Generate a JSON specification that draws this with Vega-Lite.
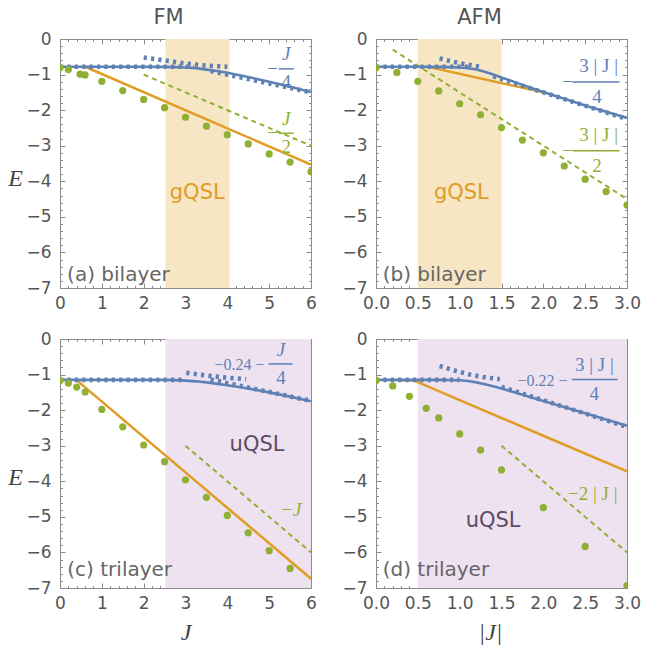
{
"$schema": "https://vega.github.io/schema/vega-lite/v6.json",
"background": "white",
"padding": {"left": 7, "top": 6, "right": 5, "bottom": 5},
"columns": 2,
"spacing": {"row": 51, "column": 65},
"bounds": "flush",
"datasets": {
"A": [
{"s":"band","J":2.52,"J2":4.05},
{"s":"blue","J":0,"E":-0.78},{"s":"blue","J":1,"E":-0.78},{"s":"blue","J":2,"E":-0.78},{"s":"blue","J":2.5,"E":-0.785},{"s":"blue","J":2.75,"E":-0.79},{"s":"blue","J":3,"E":-0.8},{"s":"blue","J":3.25,"E":-0.82},{"s":"blue","J":3.5,"E":-0.86},{"s":"blue","J":3.75,"E":-0.9},{"s":"blue","J":4,"E":-0.95},{"s":"blue","J":4.5,"E":-1.07},{"s":"blue","J":5,"E":-1.2},{"s":"blue","J":5.5,"E":-1.34},{"s":"blue","J":6,"E":-1.49},
{"s":"dot","g":1,"J":0,"E":-0.78},{"s":"dot","g":1,"J":3.2,"E":-0.78},
{"s":"dot","g":2,"J":2,"E":-0.52},{"s":"dot","g":2,"J":2.5,"E":-0.6},{"s":"dot","g":2,"J":3,"E":-0.69},{"s":"dot","g":2,"J":3.5,"E":-0.75},{"s":"dot","g":2,"J":4,"E":-0.78},
{"s":"dot","g":3,"J":3.6,"E":-0.9},{"s":"dot","g":3,"J":6,"E":-1.5},
{"s":"orange","J":0.6,"E":-0.78},{"s":"orange","J":6,"E":-3.53},
{"s":"gdash","J":2,"E":-1},{"s":"gdash","J":6,"E":-3},
{"s":"pts","J":0,"E":-0.81},{"s":"pts","J":0.2,"E":-0.86},{"s":"pts","J":0.48,"E":-0.99},{"s":"pts","J":0.6,"E":-1.01},{"s":"pts","J":1,"E":-1.19},{"s":"pts","J":1.5,"E":-1.45},{"s":"pts","J":2,"E":-1.7},{"s":"pts","J":2.5,"E":-1.93},{"s":"pts","J":3,"E":-2.2},{"s":"pts","J":3.5,"E":-2.45},{"s":"pts","J":4,"E":-2.69},{"s":"pts","J":4.5,"E":-2.95},{"s":"pts","J":5,"E":-3.23},{"s":"pts","J":5.5,"E":-3.46},{"s":"pts","J":6,"E":-3.73},
{"s":"region","J":3.28,"E":-4.33,"t":"gQSL"},
{"s":"panel","J":0.17,"E":-6.64,"t":"(a) bilayer"},
{"s":"fb","J":5.08,"E":-0.84,"t":"−"},{"s":"fb","J":5.41,"E":-1.22,"t":"4"},
{"s":"fbi","J":5.41,"E":-0.42,"t":"J"},
{"s":"barb","J":5.23,"J2":5.59,"E":-0.84},
{"s":"fg","J":5.08,"E":-2.65,"t":"−"},{"s":"fg","J":5.41,"E":-3.04,"t":"2"},
{"s":"fgi","J":5.41,"E":-2.24,"t":"J"},
{"s":"barg","J":5.23,"J2":5.59,"E":-2.65}
],
"B": [
{"s":"band","J":0.5,"J2":1.5},
{"s":"blue","J":0,"E":-0.78},{"s":"blue","J":0.5,"E":-0.78},{"s":"blue","J":0.8,"E":-0.785},{"s":"blue","J":1.0,"E":-0.8},{"s":"blue","J":1.1,"E":-0.82},{"s":"blue","J":1.2,"E":-0.86},{"s":"blue","J":1.3,"E":-0.92},{"s":"blue","J":1.4,"E":-1.0},{"s":"blue","J":1.5,"E":-1.08},{"s":"blue","J":1.75,"E":-1.29},{"s":"blue","J":2,"E":-1.49},{"s":"blue","J":2.5,"E":-1.87},{"s":"blue","J":3,"E":-2.22},
{"s":"dot","g":1,"J":0,"E":-0.78},{"s":"dot","g":1,"J":1.1,"E":-0.78},
{"s":"dot","g":2,"J":0.76,"E":-0.55},{"s":"dot","g":2,"J":1.0,"E":-0.68},{"s":"dot","g":2,"J":1.24,"E":-0.78},
{"s":"dot","g":3,"J":1.4,"E":-1.05},{"s":"dot","g":3,"J":3,"E":-2.25},
{"s":"orange","J":0.64,"E":-0.79},{"s":"orange","J":2,"E":-1.5},
{"s":"gdash","J":0.2,"E":-0.3},{"s":"gdash","J":3,"E":-4.5},
{"s":"pts","J":0,"E":-0.81},{"s":"pts","J":0.25,"E":-0.94},{"s":"pts","J":0.5,"E":-1.19},{"s":"pts","J":0.75,"E":-1.46},{"s":"pts","J":1,"E":-1.82},{"s":"pts","J":1.25,"E":-2.13},{"s":"pts","J":1.5,"E":-2.49},{"s":"pts","J":1.75,"E":-2.84},{"s":"pts","J":2,"E":-3.2},{"s":"pts","J":2.25,"E":-3.57},{"s":"pts","J":2.5,"E":-3.94},{"s":"pts","J":2.75,"E":-4.29},{"s":"pts","J":3,"E":-4.67},
{"s":"region","J":1.02,"E":-4.33,"t":"gQSL"},
{"s":"panel","J":0.08,"E":-6.64,"t":"(b) bilayer"},
{"s":"fb","J":2.29,"E":-1.21,"t":"−"},{"s":"fb","J":2.66,"E":-0.76,"t":"3 | J |"},{"s":"fb","J":2.64,"E":-1.63,"t":"4"},
{"s":"barb","J":2.35,"J2":2.91,"E":-1.21},
{"s":"fg","J":2.29,"E":-3.14,"t":"−"},{"s":"fg","J":2.66,"E":-2.71,"t":"3 | J |"},{"s":"fg","J":2.64,"E":-3.56,"t":"2"},
{"s":"barg","J":2.35,"J2":2.91,"E":-3.14}
],
"C": [
{"s":"band","J":2.52,"J2":6},
{"s":"blue","J":0,"E":-1.15},{"s":"blue","J":2.5,"E":-1.15},{"s":"blue","J":2.75,"E":-1.156},{"s":"blue","J":3,"E":-1.17},{"s":"blue","J":3.25,"E":-1.19},{"s":"blue","J":3.5,"E":-1.22},{"s":"blue","J":4,"E":-1.3},{"s":"blue","J":4.5,"E":-1.39},{"s":"blue","J":5,"E":-1.5},{"s":"blue","J":5.5,"E":-1.62},{"s":"blue","J":6,"E":-1.75},
{"s":"dot","g":1,"J":0,"E":-1.15},{"s":"dot","g":1,"J":3,"E":-1.15},
{"s":"dot","g":2,"J":3.02,"E":-0.95},{"s":"dot","g":2,"J":3.5,"E":-1.03},{"s":"dot","g":2,"J":4,"E":-1.09},{"s":"dot","g":2,"J":4.45,"E":-1.13},
{"s":"dot","g":3,"J":3.6,"E":-1.14},{"s":"dot","g":3,"J":6,"E":-1.74},
{"s":"orange","J":0.41,"E":-1.17},{"s":"orange","J":6,"E":-6.74},
{"s":"gdash","J":3,"E":-3},{"s":"gdash","J":6,"E":-6},
{"s":"pts","J":0,"E":-1.17},{"s":"pts","J":0.2,"E":-1.24},{"s":"pts","J":0.4,"E":-1.35},{"s":"pts","J":0.6,"E":-1.49},{"s":"pts","J":1,"E":-1.98},{"s":"pts","J":1.5,"E":-2.47},{"s":"pts","J":2,"E":-2.98},{"s":"pts","J":2.5,"E":-3.45},{"s":"pts","J":3,"E":-3.96},{"s":"pts","J":3.5,"E":-4.45},{"s":"pts","J":4,"E":-4.96},{"s":"pts","J":4.5,"E":-5.45},{"s":"pts","J":5,"E":-5.95},{"s":"pts","J":5.5,"E":-6.45},
{"s":"region","J":4.71,"E":-2.99,"t":"uQSL"},
{"s":"panel","J":0.175,"E":-6.5,"t":"(c) trilayer"},
{"s":"fbr","J":4.89,"E":-0.72,"t":"−0.24 −"},
{"s":"fb","J":5.28,"E":-1.1,"t":"4"},
{"s":"fbi","J":5.28,"E":-0.3,"t":"J"},
{"s":"barb","J":4.98,"J2":5.56,"E":-0.7},
{"s":"fgi","J":5.52,"E":-4.8,"t":"−J"}
],
"D": [
{"s":"band","J":0.5,"J2":3},
{"s":"blue","J":0,"E":-1.15},{"s":"blue","J":0.75,"E":-1.15},{"s":"blue","J":1.0,"E":-1.16},{"s":"blue","J":1.1,"E":-1.18},{"s":"blue","J":1.2,"E":-1.22},{"s":"blue","J":1.3,"E":-1.27},{"s":"blue","J":1.4,"E":-1.33},{"s":"blue","J":1.5,"E":-1.39},{"s":"blue","J":2,"E":-1.74},{"s":"blue","J":2.5,"E":-2.09},{"s":"blue","J":3,"E":-2.44},
{"s":"dot","g":1,"J":0,"E":-1.15},{"s":"dot","g":1,"J":1.0,"E":-1.15},
{"s":"dot","g":2,"J":0.76,"E":-0.76},{"s":"dot","g":2,"J":0.96,"E":-0.9},{"s":"dot","g":2,"J":1.12,"E":-1.0},{"s":"dot","g":2,"J":1.28,"E":-1.07},{"s":"dot","g":2,"J":1.48,"E":-1.13},
{"s":"dot","g":3,"J":1.5,"E":-1.35},{"s":"dot","g":3,"J":3,"E":-2.47},
{"s":"orange","J":0.3,"E":-1.16},{"s":"orange","J":0.46,"E":-1.17},{"s":"orange","J":1,"E":-1.72},{"s":"orange","J":2,"E":-2.72},{"s":"orange","J":3,"E":-3.72},
{"s":"gdash","J":1.5,"E":-3},{"s":"gdash","J":3,"E":-6},
{"s":"pts","J":0,"E":-1.17},{"s":"pts","J":0.2,"E":-1.32},{"s":"pts","J":0.4,"E":-1.61},{"s":"pts","J":0.6,"E":-1.95},{"s":"pts","J":0.75,"E":-2.22},{"s":"pts","J":1,"E":-2.67},{"s":"pts","J":1.25,"E":-3.12},{"s":"pts","J":1.5,"E":-3.68},{"s":"pts","J":2,"E":-4.74},{"s":"pts","J":2.5,"E":-5.83},{"s":"pts","J":3,"E":-6.93},
{"s":"region","J":1.4,"E":-5.13,"t":"uQSL"},
{"s":"panel","J":0.08,"E":-6.5,"t":"(d) trilayer"},
{"s":"fbr","J":2.29,"E":-1.17,"t":"−0.22 −"},
{"s":"fb","J":2.61,"E":-0.73,"t":"3 | J |"},{"s":"fb","J":2.61,"E":-1.55,"t":"4"},
{"s":"barb","J":2.34,"J2":2.89,"E":-1.14},
{"s":"fg","J":2.59,"E":-4.35,"t":"−2 | J |"}
]
},
"concat": [
{
"width": 251, "height": 249,
"title": {"text": "FM", "dx": -17, "offset": -15, "baseline": "alphabetic"},
"data": {"name": "A"},
"resolve": {"axis": {"x": "independent", "y": "independent"}},
"layer": [
{"transform":[{"filter":"datum.s==='band'"}],"mark":{"type":"rect","color":"#F7E6C4"},"encoding":{"x":{"field":"J","type":"quantitative","axis":null},"x2":{"field":"J2"}}},
{"transform":[{"filter":"datum.s==='pts'"}],"mark":{"type":"point","opacity":0},"encoding":{
"x":{"field":"J","type":"quantitative","scale":{"domain":[0,6],"nice":false,"zero":false},"axis":{"orient":"bottom","values":[0,1,2,3,4,5,6],"tickSize":-5,"labelPadding":12,"title":null}},
"y":{"field":"E","type":"quantitative","scale":{"domain":[-7,0],"nice":false,"zero":false},"axis":{"orient":"left","values":[-7,-6,-5,-4,-3,-2,-1,0],"tickSize":-5,"labelPadding":14,"title":"E","titleAngle":0,"titleX":-45,"titleY":139,"titleAlign":"center","titleBaseline":"middle","titleFont":"Liberation Serif","titleFontStyle":"italic","titleFontSize":24,"titleFontWeight":"normal","titleColor":"#444"}}}},
{"transform":[{"filter":"datum.s==='pts'"}],"mark":{"type":"point","opacity":0},"encoding":{
"x":{"field":"J","type":"quantitative","axis":{"orient":"top","values":[0,1,2,3,4,5,6],"tickSize":-5,"labels":false,"title":null}},
"y":{"field":"E","type":"quantitative","axis":{"orient":"right","values":[-7,-6,-5,-4,-3,-2,-1,0],"tickSize":-5,"labels":false,"title":null}}}},
{"transform":[{"filter":"datum.s==='pts'"}],"mark":{"type":"point","opacity":0},"encoding":{
"x":{"field":"J","type":"quantitative","axis":{"orient":"bottom","values":[0.2,0.4,0.6,0.8,1.2,1.4,1.6,1.8,2.2,2.4,2.6,2.8,3.2,3.4,3.6,3.8,4.2,4.4,4.6,4.8,5.2,5.4,5.6,5.8],"tickSize":-2.5,"labels":false,"title":null}},
"y":{"field":"E","type":"quantitative","axis":{"orient":"left","values":[-6.8,-6.6,-6.4,-6.2,-5.8,-5.6,-5.4,-5.2,-4.8,-4.6,-4.4,-4.2,-3.8,-3.6,-3.4,-3.2,-2.8,-2.6,-2.4,-2.2,-1.8,-1.6,-1.4,-1.2,-0.8,-0.6,-0.4,-0.2],"tickSize":-2.5,"labels":false,"title":null}}}},
{"transform":[{"filter":"datum.s==='pts'"}],"mark":{"type":"point","opacity":0},"encoding":{
"x":{"field":"J","type":"quantitative","axis":{"orient":"top","values":[0.2,0.4,0.6,0.8,1.2,1.4,1.6,1.8,2.2,2.4,2.6,2.8,3.2,3.4,3.6,3.8,4.2,4.4,4.6,4.8,5.2,5.4,5.6,5.8],"tickSize":-2.5,"labels":false,"title":null}},
"y":{"field":"E","type":"quantitative","axis":{"orient":"right","values":[-6.8,-6.6,-6.4,-6.2,-5.8,-5.6,-5.4,-5.2,-4.8,-4.6,-4.4,-4.2,-3.8,-3.6,-3.4,-3.2,-2.8,-2.6,-2.4,-2.2,-1.8,-1.6,-1.4,-1.2,-0.8,-0.6,-0.4,-0.2],"tickSize":-2.5,"labels":false,"title":null}}}},
{"transform":[{"filter":"datum.s==='orange'"}],"mark":{"type":"line","color":"#E19C24","strokeWidth":2.5,"clip":true},"encoding":{"x":{"field":"J","type":"quantitative","axis":null},"y":{"field":"E","type":"quantitative","axis":null}}},
{"transform":[{"filter":"datum.s==='gdash'"}],"mark":{"type":"line","color":"#8FB032","strokeWidth":2,"strokeDash":[5,4],"clip":true},"encoding":{"x":{"field":"J","type":"quantitative","axis":null},"y":{"field":"E","type":"quantitative","axis":null}}},
{"transform":[{"filter":"datum.s==='blue'"}],"mark":{"type":"line","color":"#5E81B5","strokeWidth":2.6,"clip":true},"encoding":{"x":{"field":"J","type":"quantitative","axis":null},"y":{"field":"E","type":"quantitative","axis":null}}},
{"transform":[{"filter":"datum.s==='dot'"}],"mark":{"type":"line","color":"#5E81B5","strokeWidth":4.6,"strokeDash":[3.2,4.2],"strokeCap":"butt","clip":true},"encoding":{"x":{"field":"J","type":"quantitative","axis":null},"y":{"field":"E","type":"quantitative","axis":null},"detail":{"field":"g","type":"nominal"}}},
{"transform":[{"filter":"datum.s==='pts'"}],"mark":{"type":"circle","color":"#8FB032","size":52,"opacity":1,"clip":true},"encoding":{"x":{"field":"J","type":"quantitative","axis":null},"y":{"field":"E","type":"quantitative","axis":null}}},
{"transform":[{"filter":"datum.s==='region'"}],"mark":{"type":"text","font":"DejaVu Sans","fontSize":21,"color":"#E19C24","align":"center","baseline":"middle"},"encoding":{"x":{"field":"J","type":"quantitative","axis":null},"y":{"field":"E","type":"quantitative","axis":null},"text":{"field":"t"}}},
{"transform":[{"filter":"datum.s==='panel'"}],"mark":{"type":"text","font":"DejaVu Sans","fontSize":20,"color":"#666666","align":"left","baseline":"middle"},"encoding":{"x":{"field":"J","type":"quantitative","axis":null},"y":{"field":"E","type":"quantitative","axis":null},"text":{"field":"t"}}},
{"transform":[{"filter":"datum.s==='fb'"}],"mark":{"type":"text","font":"Liberation Serif","fontSize":19,"color":"#5E81B5","align":"center","baseline":"middle"},"encoding":{"x":{"field":"J","type":"quantitative","axis":null},"y":{"field":"E","type":"quantitative","axis":null},"text":{"field":"t"}}},
{"transform":[{"filter":"datum.s==='fbi'"}],"mark":{"type":"text","font":"Liberation Serif","fontSize":19,"fontStyle":"italic","color":"#5E81B5","align":"center","baseline":"middle"},"encoding":{"x":{"field":"J","type":"quantitative","axis":null},"y":{"field":"E","type":"quantitative","axis":null},"text":{"field":"t"}}},
{"transform":[{"filter":"datum.s==='barb'"}],"mark":{"type":"rule","color":"#5E81B5","strokeWidth":1.5},"encoding":{"x":{"field":"J","type":"quantitative","axis":null},"x2":{"field":"J2"},"y":{"field":"E","type":"quantitative","axis":null}}},
{"transform":[{"filter":"datum.s==='fg'"}],"mark":{"type":"text","font":"Liberation Serif","fontSize":19,"color":"#8FB032","align":"center","baseline":"middle"},"encoding":{"x":{"field":"J","type":"quantitative","axis":null},"y":{"field":"E","type":"quantitative","axis":null},"text":{"field":"t"}}},
{"transform":[{"filter":"datum.s==='fgi'"}],"mark":{"type":"text","font":"Liberation Serif","fontSize":19,"fontStyle":"italic","color":"#8FB032","align":"center","baseline":"middle"},"encoding":{"x":{"field":"J","type":"quantitative","axis":null},"y":{"field":"E","type":"quantitative","axis":null},"text":{"field":"t"}}},
{"transform":[{"filter":"datum.s==='barg'"}],"mark":{"type":"rule","color":"#8FB032","strokeWidth":1.5},"encoding":{"x":{"field":"J","type":"quantitative","axis":null},"x2":{"field":"J2"},"y":{"field":"E","type":"quantitative","axis":null}}}
]
},
{
"width": 251, "height": 249,
"title": {"text": "AFM", "dx": -22, "offset": -15, "baseline": "alphabetic"},
"data": {"name": "B"},
"resolve": {"axis": {"x": "independent", "y": "independent"}},
"layer": [
{"transform":[{"filter":"datum.s==='band'"}],"mark":{"type":"rect","color":"#F7E6C4"},"encoding":{"x":{"field":"J","type":"quantitative","axis":null},"x2":{"field":"J2"}}},
{"transform":[{"filter":"datum.s==='pts'"}],"mark":{"type":"point","opacity":0},"encoding":{
"x":{"field":"J","type":"quantitative","scale":{"domain":[0,3],"nice":false,"zero":false},"axis":{"orient":"bottom","values":[0,0.5,1,1.5,2,2.5,3],"format":".1f","tickSize":-5,"labelPadding":12,"title":null}},
"y":{"field":"E","type":"quantitative","scale":{"domain":[-7,0],"nice":false,"zero":false},"axis":{"orient":"left","values":[-7,-6,-5,-4,-3,-2,-1,0],"tickSize":-5,"labelPadding":14,"title":null}}}},
{"transform":[{"filter":"datum.s==='pts'"}],"mark":{"type":"point","opacity":0},"encoding":{
"x":{"field":"J","type":"quantitative","axis":{"orient":"top","values":[0,0.5,1,1.5,2,2.5,3],"tickSize":-5,"labels":false,"title":null}},
"y":{"field":"E","type":"quantitative","axis":{"orient":"right","values":[-7,-6,-5,-4,-3,-2,-1,0],"tickSize":-5,"labels":false,"title":null}}}},
{"transform":[{"filter":"datum.s==='pts'"}],"mark":{"type":"point","opacity":0},"encoding":{
"x":{"field":"J","type":"quantitative","axis":{"orient":"bottom","values":[0.1,0.2,0.3,0.4,0.6,0.7,0.8,0.9,1.1,1.2,1.3,1.4,1.6,1.7,1.8,1.9,2.1,2.2,2.3,2.4,2.6,2.7,2.8,2.9],"tickSize":-2.5,"labels":false,"title":null}},
"y":{"field":"E","type":"quantitative","axis":{"orient":"left","values":[-6.8,-6.6,-6.4,-6.2,-5.8,-5.6,-5.4,-5.2,-4.8,-4.6,-4.4,-4.2,-3.8,-3.6,-3.4,-3.2,-2.8,-2.6,-2.4,-2.2,-1.8,-1.6,-1.4,-1.2,-0.8,-0.6,-0.4,-0.2],"tickSize":-2.5,"labels":false,"title":null}}}},
{"transform":[{"filter":"datum.s==='pts'"}],"mark":{"type":"point","opacity":0},"encoding":{
"x":{"field":"J","type":"quantitative","axis":{"orient":"top","values":[0.1,0.2,0.3,0.4,0.6,0.7,0.8,0.9,1.1,1.2,1.3,1.4,1.6,1.7,1.8,1.9,2.1,2.2,2.3,2.4,2.6,2.7,2.8,2.9],"tickSize":-2.5,"labels":false,"title":null}},
"y":{"field":"E","type":"quantitative","axis":{"orient":"right","values":[-6.8,-6.6,-6.4,-6.2,-5.8,-5.6,-5.4,-5.2,-4.8,-4.6,-4.4,-4.2,-3.8,-3.6,-3.4,-3.2,-2.8,-2.6,-2.4,-2.2,-1.8,-1.6,-1.4,-1.2,-0.8,-0.6,-0.4,-0.2],"tickSize":-2.5,"labels":false,"title":null}}}},
{"transform":[{"filter":"datum.s==='orange'"}],"mark":{"type":"line","color":"#E19C24","strokeWidth":2.5,"clip":true},"encoding":{"x":{"field":"J","type":"quantitative","axis":null},"y":{"field":"E","type":"quantitative","axis":null}}},
{"transform":[{"filter":"datum.s==='gdash'"}],"mark":{"type":"line","color":"#8FB032","strokeWidth":2,"strokeDash":[5,4],"clip":true},"encoding":{"x":{"field":"J","type":"quantitative","axis":null},"y":{"field":"E","type":"quantitative","axis":null}}},
{"transform":[{"filter":"datum.s==='blue'"}],"mark":{"type":"line","color":"#5E81B5","strokeWidth":2.6,"clip":true},"encoding":{"x":{"field":"J","type":"quantitative","axis":null},"y":{"field":"E","type":"quantitative","axis":null}}},
{"transform":[{"filter":"datum.s==='dot'"}],"mark":{"type":"line","color":"#5E81B5","strokeWidth":4.6,"strokeDash":[3.2,4.2],"strokeCap":"butt","clip":true},"encoding":{"x":{"field":"J","type":"quantitative","axis":null},"y":{"field":"E","type":"quantitative","axis":null},"detail":{"field":"g","type":"nominal"}}},
{"transform":[{"filter":"datum.s==='pts'"}],"mark":{"type":"circle","color":"#8FB032","size":52,"opacity":1,"clip":true},"encoding":{"x":{"field":"J","type":"quantitative","axis":null},"y":{"field":"E","type":"quantitative","axis":null}}},
{"transform":[{"filter":"datum.s==='region'"}],"mark":{"type":"text","font":"DejaVu Sans","fontSize":21,"color":"#E19C24","align":"center","baseline":"middle"},"encoding":{"x":{"field":"J","type":"quantitative","axis":null},"y":{"field":"E","type":"quantitative","axis":null},"text":{"field":"t"}}},
{"transform":[{"filter":"datum.s==='panel'"}],"mark":{"type":"text","font":"DejaVu Sans","fontSize":20,"color":"#666666","align":"left","baseline":"middle"},"encoding":{"x":{"field":"J","type":"quantitative","axis":null},"y":{"field":"E","type":"quantitative","axis":null},"text":{"field":"t"}}},
{"transform":[{"filter":"datum.s==='fb'"}],"mark":{"type":"text","font":"Liberation Serif","fontSize":19,"color":"#5E81B5","align":"center","baseline":"middle"},"encoding":{"x":{"field":"J","type":"quantitative","axis":null},"y":{"field":"E","type":"quantitative","axis":null},"text":{"field":"t"}}},
{"transform":[{"filter":"datum.s==='barb'"}],"mark":{"type":"rule","color":"#5E81B5","strokeWidth":1.5},"encoding":{"x":{"field":"J","type":"quantitative","axis":null},"x2":{"field":"J2"},"y":{"field":"E","type":"quantitative","axis":null}}},
{"transform":[{"filter":"datum.s==='fg'"}],"mark":{"type":"text","font":"Liberation Serif","fontSize":19,"color":"#8FB032","align":"center","baseline":"middle"},"encoding":{"x":{"field":"J","type":"quantitative","axis":null},"y":{"field":"E","type":"quantitative","axis":null},"text":{"field":"t"}}},
{"transform":[{"filter":"datum.s==='barg'"}],"mark":{"type":"rule","color":"#8FB032","strokeWidth":1.5},"encoding":{"x":{"field":"J","type":"quantitative","axis":null},"x2":{"field":"J2"},"y":{"field":"E","type":"quantitative","axis":null}}}
]
},
{
"width": 251, "height": 249,
"data": {"name": "C"},
"resolve": {"axis": {"x": "independent", "y": "independent"}},
"layer": [
{"transform":[{"filter":"datum.s==='band'"}],"mark":{"type":"rect","color":"#EEE1F0"},"encoding":{"x":{"field":"J","type":"quantitative","axis":null},"x2":{"field":"J2"}}},
{"transform":[{"filter":"datum.s==='pts'"}],"mark":{"type":"point","opacity":0},"encoding":{
"x":{"field":"J","type":"quantitative","scale":{"domain":[0,6],"nice":false,"zero":false},"axis":{"orient":"bottom","values":[0,1,2,3,4,5,6],"tickSize":-5,"labelPadding":12,"title":"J","titleX":125.7,"titleY":44,"titleAlign":"center","titleBaseline":"middle","titleFont":"Liberation Serif","titleFontStyle":"italic","titleFontSize":24,"titleFontWeight":"normal","titleColor":"#444"}},
"y":{"field":"E","type":"quantitative","scale":{"domain":[-7,0],"nice":false,"zero":false},"axis":{"orient":"left","values":[-7,-6,-5,-4,-3,-2,-1,0],"tickSize":-5,"labelPadding":14,"title":"E","titleAngle":0,"titleX":-45,"titleY":138,"titleAlign":"center","titleBaseline":"middle","titleFont":"Liberation Serif","titleFontStyle":"italic","titleFontSize":24,"titleFontWeight":"normal","titleColor":"#444"}}}},
{"transform":[{"filter":"datum.s==='pts'"}],"mark":{"type":"point","opacity":0},"encoding":{
"x":{"field":"J","type":"quantitative","axis":{"orient":"top","values":[0,1,2,3,4,5,6],"tickSize":-5,"labels":false,"title":null}},
"y":{"field":"E","type":"quantitative","axis":{"orient":"right","values":[-7,-6,-5,-4,-3,-2,-1,0],"tickSize":-5,"labels":false,"title":null}}}},
{"transform":[{"filter":"datum.s==='pts'"}],"mark":{"type":"point","opacity":0},"encoding":{
"x":{"field":"J","type":"quantitative","axis":{"orient":"bottom","values":[0.2,0.4,0.6,0.8,1.2,1.4,1.6,1.8,2.2,2.4,2.6,2.8,3.2,3.4,3.6,3.8,4.2,4.4,4.6,4.8,5.2,5.4,5.6,5.8],"tickSize":-2.5,"labels":false,"title":null}},
"y":{"field":"E","type":"quantitative","axis":{"orient":"left","values":[-6.8,-6.6,-6.4,-6.2,-5.8,-5.6,-5.4,-5.2,-4.8,-4.6,-4.4,-4.2,-3.8,-3.6,-3.4,-3.2,-2.8,-2.6,-2.4,-2.2,-1.8,-1.6,-1.4,-1.2,-0.8,-0.6,-0.4,-0.2],"tickSize":-2.5,"labels":false,"title":null}}}},
{"transform":[{"filter":"datum.s==='pts'"}],"mark":{"type":"point","opacity":0},"encoding":{
"x":{"field":"J","type":"quantitative","axis":{"orient":"top","values":[0.2,0.4,0.6,0.8,1.2,1.4,1.6,1.8,2.2,2.4,2.6,2.8,3.2,3.4,3.6,3.8,4.2,4.4,4.6,4.8,5.2,5.4,5.6,5.8],"tickSize":-2.5,"labels":false,"title":null}},
"y":{"field":"E","type":"quantitative","axis":{"orient":"right","values":[-6.8,-6.6,-6.4,-6.2,-5.8,-5.6,-5.4,-5.2,-4.8,-4.6,-4.4,-4.2,-3.8,-3.6,-3.4,-3.2,-2.8,-2.6,-2.4,-2.2,-1.8,-1.6,-1.4,-1.2,-0.8,-0.6,-0.4,-0.2],"tickSize":-2.5,"labels":false,"title":null}}}},
{"transform":[{"filter":"datum.s==='orange'"}],"mark":{"type":"line","color":"#E19C24","strokeWidth":2.5,"clip":true},"encoding":{"x":{"field":"J","type":"quantitative","axis":null},"y":{"field":"E","type":"quantitative","axis":null}}},
{"transform":[{"filter":"datum.s==='gdash'"}],"mark":{"type":"line","color":"#8FB032","strokeWidth":2,"strokeDash":[5,4],"clip":true},"encoding":{"x":{"field":"J","type":"quantitative","axis":null},"y":{"field":"E","type":"quantitative","axis":null}}},
{"transform":[{"filter":"datum.s==='blue'"}],"mark":{"type":"line","color":"#5E81B5","strokeWidth":2.6,"clip":true},"encoding":{"x":{"field":"J","type":"quantitative","axis":null},"y":{"field":"E","type":"quantitative","axis":null}}},
{"transform":[{"filter":"datum.s==='dot'"}],"mark":{"type":"line","color":"#5E81B5","strokeWidth":4.6,"strokeDash":[3.2,4.2],"strokeCap":"butt","clip":true},"encoding":{"x":{"field":"J","type":"quantitative","axis":null},"y":{"field":"E","type":"quantitative","axis":null},"detail":{"field":"g","type":"nominal"}}},
{"transform":[{"filter":"datum.s==='pts'"}],"mark":{"type":"circle","color":"#8FB032","size":52,"opacity":1,"clip":true},"encoding":{"x":{"field":"J","type":"quantitative","axis":null},"y":{"field":"E","type":"quantitative","axis":null}}},
{"transform":[{"filter":"datum.s==='region'"}],"mark":{"type":"text","font":"DejaVu Sans","fontSize":21,"color":"#5F4B66","align":"center","baseline":"middle"},"encoding":{"x":{"field":"J","type":"quantitative","axis":null},"y":{"field":"E","type":"quantitative","axis":null},"text":{"field":"t"}}},
{"transform":[{"filter":"datum.s==='panel'"}],"mark":{"type":"text","font":"DejaVu Sans","fontSize":20,"color":"#666666","align":"left","baseline":"middle"},"encoding":{"x":{"field":"J","type":"quantitative","axis":null},"y":{"field":"E","type":"quantitative","axis":null},"text":{"field":"t"}}},
{"transform":[{"filter":"datum.s==='fbr'"}],"mark":{"type":"text","font":"Liberation Serif","fontSize":16,"color":"#5E81B5","align":"right","baseline":"middle"},"encoding":{"x":{"field":"J","type":"quantitative","axis":null},"y":{"field":"E","type":"quantitative","axis":null},"text":{"field":"t"}}},
{"transform":[{"filter":"datum.s==='fb'"}],"mark":{"type":"text","font":"Liberation Serif","fontSize":19,"color":"#5E81B5","align":"center","baseline":"middle"},"encoding":{"x":{"field":"J","type":"quantitative","axis":null},"y":{"field":"E","type":"quantitative","axis":null},"text":{"field":"t"}}},
{"transform":[{"filter":"datum.s==='fbi'"}],"mark":{"type":"text","font":"Liberation Serif","fontSize":19,"fontStyle":"italic","color":"#5E81B5","align":"center","baseline":"middle"},"encoding":{"x":{"field":"J","type":"quantitative","axis":null},"y":{"field":"E","type":"quantitative","axis":null},"text":{"field":"t"}}},
{"transform":[{"filter":"datum.s==='barb'"}],"mark":{"type":"rule","color":"#5E81B5","strokeWidth":1.5},"encoding":{"x":{"field":"J","type":"quantitative","axis":null},"x2":{"field":"J2"},"y":{"field":"E","type":"quantitative","axis":null}}},
{"transform":[{"filter":"datum.s==='fgi'"}],"mark":{"type":"text","font":"Liberation Serif","fontSize":19,"fontStyle":"italic","color":"#8FB032","align":"center","baseline":"middle"},"encoding":{"x":{"field":"J","type":"quantitative","axis":null},"y":{"field":"E","type":"quantitative","axis":null},"text":{"field":"t"}}}
]
},
{
"width": 251, "height": 249,
"data": {"name": "D"},
"resolve": {"axis": {"x": "independent", "y": "independent"}},
"layer": [
{"transform":[{"filter":"datum.s==='band'"}],"mark":{"type":"rect","color":"#EEE1F0"},"encoding":{"x":{"field":"J","type":"quantitative","axis":null},"x2":{"field":"J2"}}},
{"transform":[{"filter":"datum.s==='pts'"}],"mark":{"type":"point","opacity":0},"encoding":{
"x":{"field":"J","type":"quantitative","scale":{"domain":[0,3],"nice":false,"zero":false},"axis":{"orient":"bottom","values":[0,0.5,1,1.5,2,2.5,3],"format":".1f","tickSize":-5,"labelPadding":12,"title":"|J|","titleX":114,"titleY":44,"titleAlign":"center","titleBaseline":"middle","titleFont":"Liberation Serif","titleFontStyle":"italic","titleFontSize":24,"titleFontWeight":"normal","titleColor":"#444"}},
"y":{"field":"E","type":"quantitative","scale":{"domain":[-7,0],"nice":false,"zero":false},"axis":{"orient":"left","values":[-7,-6,-5,-4,-3,-2,-1,0],"tickSize":-5,"labelPadding":14,"title":null}}}},
{"transform":[{"filter":"datum.s==='pts'"}],"mark":{"type":"point","opacity":0},"encoding":{
"x":{"field":"J","type":"quantitative","axis":{"orient":"top","values":[0,0.5,1,1.5,2,2.5,3],"tickSize":-5,"labels":false,"title":null}},
"y":{"field":"E","type":"quantitative","axis":{"orient":"right","values":[-7,-6,-5,-4,-3,-2,-1,0],"tickSize":-5,"labels":false,"title":null}}}},
{"transform":[{"filter":"datum.s==='pts'"}],"mark":{"type":"point","opacity":0},"encoding":{
"x":{"field":"J","type":"quantitative","axis":{"orient":"bottom","values":[0.1,0.2,0.3,0.4,0.6,0.7,0.8,0.9,1.1,1.2,1.3,1.4,1.6,1.7,1.8,1.9,2.1,2.2,2.3,2.4,2.6,2.7,2.8,2.9],"tickSize":-2.5,"labels":false,"title":null}},
"y":{"field":"E","type":"quantitative","axis":{"orient":"left","values":[-6.8,-6.6,-6.4,-6.2,-5.8,-5.6,-5.4,-5.2,-4.8,-4.6,-4.4,-4.2,-3.8,-3.6,-3.4,-3.2,-2.8,-2.6,-2.4,-2.2,-1.8,-1.6,-1.4,-1.2,-0.8,-0.6,-0.4,-0.2],"tickSize":-2.5,"labels":false,"title":null}}}},
{"transform":[{"filter":"datum.s==='pts'"}],"mark":{"type":"point","opacity":0},"encoding":{
"x":{"field":"J","type":"quantitative","axis":{"orient":"top","values":[0.1,0.2,0.3,0.4,0.6,0.7,0.8,0.9,1.1,1.2,1.3,1.4,1.6,1.7,1.8,1.9,2.1,2.2,2.3,2.4,2.6,2.7,2.8,2.9],"tickSize":-2.5,"labels":false,"title":null}},
"y":{"field":"E","type":"quantitative","axis":{"orient":"right","values":[-6.8,-6.6,-6.4,-6.2,-5.8,-5.6,-5.4,-5.2,-4.8,-4.6,-4.4,-4.2,-3.8,-3.6,-3.4,-3.2,-2.8,-2.6,-2.4,-2.2,-1.8,-1.6,-1.4,-1.2,-0.8,-0.6,-0.4,-0.2],"tickSize":-2.5,"labels":false,"title":null}}}},
{"transform":[{"filter":"datum.s==='orange'"}],"mark":{"type":"line","color":"#E19C24","strokeWidth":2.5,"clip":true},"encoding":{"x":{"field":"J","type":"quantitative","axis":null},"y":{"field":"E","type":"quantitative","axis":null}}},
{"transform":[{"filter":"datum.s==='gdash'"}],"mark":{"type":"line","color":"#8FB032","strokeWidth":2,"strokeDash":[5,4],"clip":true},"encoding":{"x":{"field":"J","type":"quantitative","axis":null},"y":{"field":"E","type":"quantitative","axis":null}}},
{"transform":[{"filter":"datum.s==='blue'"}],"mark":{"type":"line","color":"#5E81B5","strokeWidth":2.6,"clip":true},"encoding":{"x":{"field":"J","type":"quantitative","axis":null},"y":{"field":"E","type":"quantitative","axis":null}}},
{"transform":[{"filter":"datum.s==='dot'"}],"mark":{"type":"line","color":"#5E81B5","strokeWidth":4.6,"strokeDash":[3.2,4.2],"strokeCap":"butt","clip":true},"encoding":{"x":{"field":"J","type":"quantitative","axis":null},"y":{"field":"E","type":"quantitative","axis":null},"detail":{"field":"g","type":"nominal"}}},
{"transform":[{"filter":"datum.s==='pts'"}],"mark":{"type":"circle","color":"#8FB032","size":52,"opacity":1,"clip":true},"encoding":{"x":{"field":"J","type":"quantitative","axis":null},"y":{"field":"E","type":"quantitative","axis":null}}},
{"transform":[{"filter":"datum.s==='region'"}],"mark":{"type":"text","font":"DejaVu Sans","fontSize":21,"color":"#5F4B66","align":"center","baseline":"middle"},"encoding":{"x":{"field":"J","type":"quantitative","axis":null},"y":{"field":"E","type":"quantitative","axis":null},"text":{"field":"t"}}},
{"transform":[{"filter":"datum.s==='panel'"}],"mark":{"type":"text","font":"DejaVu Sans","fontSize":20,"color":"#666666","align":"left","baseline":"middle"},"encoding":{"x":{"field":"J","type":"quantitative","axis":null},"y":{"field":"E","type":"quantitative","axis":null},"text":{"field":"t"}}},
{"transform":[{"filter":"datum.s==='fbr'"}],"mark":{"type":"text","font":"Liberation Serif","fontSize":16,"color":"#5E81B5","align":"right","baseline":"middle"},"encoding":{"x":{"field":"J","type":"quantitative","axis":null},"y":{"field":"E","type":"quantitative","axis":null},"text":{"field":"t"}}},
{"transform":[{"filter":"datum.s==='fb'"}],"mark":{"type":"text","font":"Liberation Serif","fontSize":19,"color":"#5E81B5","align":"center","baseline":"middle"},"encoding":{"x":{"field":"J","type":"quantitative","axis":null},"y":{"field":"E","type":"quantitative","axis":null},"text":{"field":"t"}}},
{"transform":[{"filter":"datum.s==='barb'"}],"mark":{"type":"rule","color":"#5E81B5","strokeWidth":1.5},"encoding":{"x":{"field":"J","type":"quantitative","axis":null},"x2":{"field":"J2"},"y":{"field":"E","type":"quantitative","axis":null}}},
{"transform":[{"filter":"datum.s==='fg'"}],"mark":{"type":"text","font":"Liberation Serif","fontSize":19,"color":"#8FB032","align":"center","baseline":"middle"},"encoding":{"x":{"field":"J","type":"quantitative","axis":null},"y":{"field":"E","type":"quantitative","axis":null},"text":{"field":"t"}}}
]
}
],
"config": {
"view": {"stroke": "#8c8c8c", "strokeWidth": 1},
"axis": {"domain": false, "grid": false, "minExtent": 0, "tickColor": "#8c8c8c", "tickWidth": 1, "labelColor": "#555555", "labelFont": "DejaVu Sans", "labelFontSize": 17, "labelFlush": false, "labelOverlap": false, "zindex": 1},
"title": {"font": "DejaVu Sans", "fontSize": 21, "fontWeight": "normal", "color": "#555555"}
}
}
